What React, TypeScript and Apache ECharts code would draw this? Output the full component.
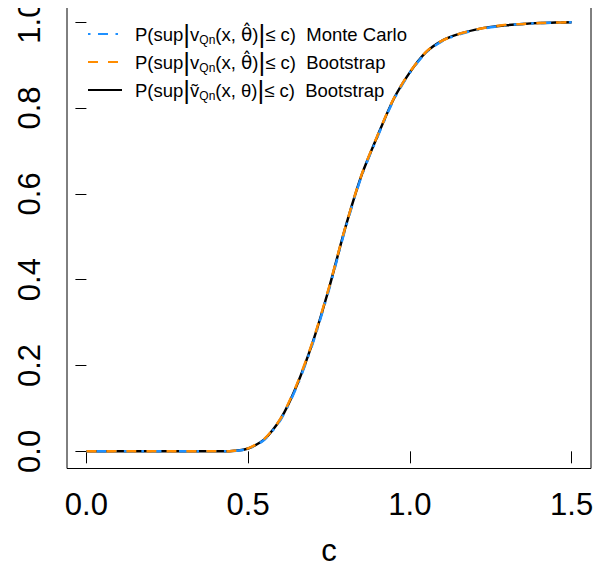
import React, { useEffect, useRef } from "react";
import * as echarts from "echarts";

const cValues = [
  0, 0.05, 0.1, 0.15, 0.2, 0.25, 0.3, 0.35, 0.4, 0.45, 0.5, 0.55, 0.6, 0.65, 0.7, 0.75,
  0.8, 0.85, 0.9, 0.95, 1.0, 1.05, 1.1, 1.15, 1.2, 1.25, 1.3, 1.35, 1.4, 1.45, 1.5,
];
const monteCarlo = [
  0, 0, 0, 0, 0, 0, 0, 0, 0, 0.0005, 0.006, 0.027, 0.073, 0.15, 0.252, 0.377, 0.517, 0.64,
  0.733, 0.819, 0.882, 0.929, 0.956, 0.971, 0.981, 0.988, 0.993, 0.996, 0.998, 0.999, 1.0,
];
const bootstrapHat = [
  0, 0, 0, 0, 0, 0, 0, 0, 0, 0.0008, 0.007, 0.029, 0.076, 0.155, 0.257, 0.382, 0.521, 0.643,
  0.736, 0.822, 0.884, 0.931, 0.957, 0.972, 0.982, 0.989, 0.994, 0.996, 0.998, 0.999, 1.0,
];
const bootstrapTilde = [
  0, 0, 0, 0, 0, 0, 0, 0, 0, 0.0007, 0.0065, 0.028, 0.075, 0.153, 0.255, 0.38, 0.52, 0.642,
  0.735, 0.821, 0.883, 0.93, 0.957, 0.972, 0.982, 0.989, 0.993, 0.996, 0.998, 0.999, 1.0,
];
const xTicks = [0, 0.5, 1, 1.5];
const yTicks = [0, 0.2, 0.4, 0.6, 0.8, 1];
const seriesIds = ["mc", "bsHat", "bsTilde"];
const legendTexts: Record<string, string> = {
  mc: "{sp| }{t|P(sup}{bar||}{t|v}{sub|Qn}{t|(x, }{th|θ̂}{t|)}{bar||}{t|≤ c)  Monte Carlo}",
  bsHat: "{sp| }{t|P(sup}{bar||}{t|v}{sub|Qn}{t|(x, }{th|θ̂}{t|)}{bar||}{t|≤ c)  Bootstrap}",
  bsTilde: "{sp| }{t|P(sup}{bar||}{t|ṽ}{sub|Qn}{t|(x, θ)}{bar||}{t|≤ c)  Bootstrap}",
};
const xLabel = "c";

const FONT = "'Liberation Sans', Arial, Helvetica, sans-serif";

function pairs(xs: number[], ys: number[]) {
  return xs.map((x, i) => [x, ys[i]]);
}

export default function App() {
  const ref = useRef<HTMLDivElement>(null);
  useEffect(() => {
    if (!ref.current) return;
    const chart = echarts.init(ref.current, undefined, { renderer: "svg" });
    const lineBase = {
      type: "line" as const,
      showSymbol: false,
      symbol: "none",
      smooth: 0.25,
      silent: true,
    };
    chart.setOption({
      animation: false,
      backgroundColor: "#fff",
      grid: {
        left: 67,
        right: 20,
        top: 5,
        bottom: 101.5,
        show: true,
        borderColor: "#000",
        borderWidth: 1,
        backgroundColor: "transparent",
        outerBoundsMode: "none",
        containLabel: false,
      },
      xAxis: {
        type: "value",
        min: -0.06,
        max: 1.56,
        offset: 2,
        axisLine: { show: false },
        splitLine: { show: false },
        axisTick: {
          show: true,
          customValues: xTicks,
          length: 12,
          lineStyle: { color: "#000", width: 1 },
        },
        axisLabel: {
          customValues: xTicks,
          formatter: (v: number) => v.toFixed(1),
          fontSize: 31,
          fontFamily: FONT,
          color: "#000",
          margin: 18,
        },
        name: xLabel,
        nameLocation: "middle",
        nameGap: 64,
        nameTextStyle: { fontSize: 31, fontFamily: FONT, color: "#000" },
      },
      yAxis: {
        type: "value",
        min: -0.04,
        max: 1.04,
        offset: 2,
        axisLine: { show: false },
        splitLine: { show: false },
        axisTick: {
          show: true,
          customValues: yTicks,
          length: 11,
          lineStyle: { color: "#000", width: 1 },
        },
        axisLabel: {
          customValues: yTicks,
          formatter: (v: number) => v.toFixed(1),
          fontSize: 31,
          fontFamily: FONT,
          color: "#000",
          rotate: 90,
          margin: 20,
        },
      },
      legend: {
        data: seriesIds,
        orient: "vertical",
        left: 82,
        top: 16,
        itemWidth: 34,
        itemHeight: 14,
        itemGap: 2,
        selectedMode: false,
        itemStyle: { opacity: 0 },
        formatter: (name: string) => legendTexts[name],
        textStyle: {
          fontFamily: FONT,
          color: "#000",
          rich: {
            sp: { width: 8 },
            t: { fontSize: 18.5, fontFamily: FONT, color: "#000", lineHeight: 24 },
            th: { fontSize: 18.5, fontFamily: "'DejaVu Sans'", color: "#000", lineHeight: 24 },
            bar: { fontSize: 26, fontFamily: FONT, color: "#000", lineHeight: 24 },
            sub: {
              fontSize: 12,
              fontFamily: FONT,
              color: "#000",
              lineHeight: 10,
              verticalAlign: "bottom",
            },
          },
        },
      },
      series: [
        {
          ...lineBase,
          id: "bsTilde",
          name: "bsTilde",
          data: pairs(cValues, bootstrapTilde),
          lineStyle: { color: "#000000", width: 2.5, type: "solid" },
          itemStyle: { color: "#000000" },
          z: 2,
        },
        {
          ...lineBase,
          id: "mc",
          name: "mc",
          data: pairs(cValues, monteCarlo),
          lineStyle: { color: "#1E90FF", width: 2.5, type: [2.5, 7.5, 10, 7.5] },
          itemStyle: { color: "#1E90FF" },
          z: 3,
        },
        {
          ...lineBase,
          id: "bsHat",
          name: "bsHat",
          data: pairs(cValues, bootstrapHat),
          lineStyle: { color: "#FF8C00", width: 2.5, type: [10, 10] },
          itemStyle: { color: "#FF8C00" },
          z: 4,
        },
      ],
    });
    return () => chart.dispose();
  }, []);
  return <div ref={ref} style={{ width: 611, height: 570, margin: -8 }} />;
}
